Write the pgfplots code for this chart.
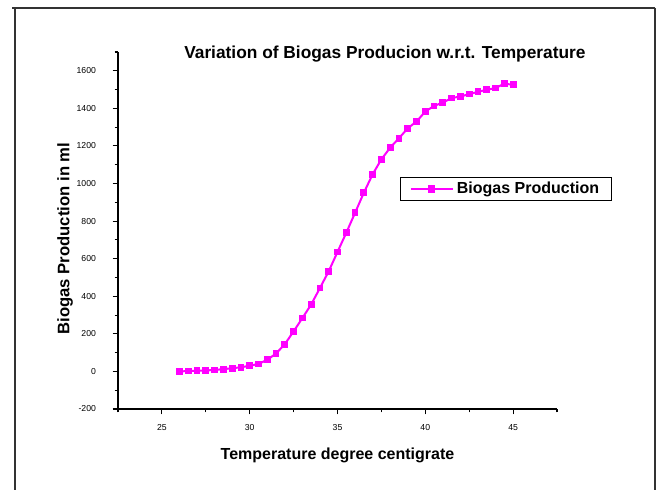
\documentclass[border=0pt]{standalone}
\usepackage{fontspec}
\setmainfont{Liberation Sans}
\usepackage{pgfplots}
\pgfplotsset{compat=1.18}
\definecolor{biomag}{rgb}{1,0,1}

\begin{document}
\begin{tikzpicture}
  % page and frame (1 px = 0.75pt, origin bottom left)
  \useasboundingbox[fill=white] (0pt,0pt) rectangle (495pt,367.5pt);
  \draw[line width=1.2pt, black!80] (9pt,361.5pt) -- (491.25pt,361.5pt);
  \draw[line width=1.2pt, black!80] (11.25pt,361.5pt) -- (11.25pt,0pt);
  \draw[line width=1.2pt, black!80] (491.25pt,361.5pt) -- (491.25pt,0pt);

  \begin{axis}[
    at={(88.5pt,60.75pt)}, anchor=south west,
    scale only axis,
    width=329.25pt, height=267.75pt,
    xmin=22.5, xmax=47.5,
    ymin=-200, ymax=1700,
    axis x line*=bottom, axis y line*=left,
    axis line style={line width=0.9pt},
    tick align=outside,
    xtick={25,30,35,40,45},
    minor xtick={22.5,27.5,32.5,37.5,42.5,47.5},
    ytick={-200,0,200,400,600,800,1000,1200,1400,1600},
    minor ytick={-100,100,300,500,700,900,1100,1300,1500,1700},
    major tick length=4pt, minor tick length=2.5pt,
    every tick/.style={black, line width=0.8pt},
    tick label style={font=\fontsize{6.5}{7}\selectfont},
    /pgf/number format/assume math mode=true,
    /pgf/number format/1000 sep={},
    xticklabel style={yshift=-4pt},
    yticklabel style={xshift=-9pt},
    xlabel={\bfseries Temperature degree centigrate},
    ylabel={\bfseries Biogas Production in ml},
    xlabel style={font=\fontsize{12}{14}\selectfont, yshift=-6pt},
    ylabel style={font=\fontsize{12.5}{14}\selectfont, yshift=-4pt, xshift=-6pt},
    clip=false,
    legend style={at={(axis cs:38.55,1035)}, anchor=north west,
      draw=black, line width=0.9pt, inner xsep=7pt, inner ysep=1.5pt,
      font=\fontsize{12}{14}\selectfont\bfseries,
      legend cell align=left},
    legend image code/.code={
      \draw[biomag, line width=1.5pt] (0cm,0cm) -- (1.12cm,0cm);
      \fill[biomag] (0.55cm,0cm) +(-2pt,-2pt) rectangle +(2pt,2pt);
    },
  ]
    \addplot[biomag, line width=1.5pt, mark=square*, mark size=1.8pt,
      mark options={solid, fill=biomag, draw=biomag}]
      coordinates {
        (26,0) (26.5,2) (27,3) (27.5,5) (28,8) (28.5,12) (29,17) (29.5,22)
        (30,30) (30.5,40) (31,62) (31.5,95) (32,145) (32.5,213) (33,284)
        (33.5,356) (34,444) (34.5,533) (35,636) (35.5,738) (36,844)
        (36.5,951) (37,1049) (37.5,1129) (38,1191) (38.5,1241) (39,1294)
        (39.5,1330) (40,1383) (40.5,1413) (41,1431) (41.5,1455) (42,1463)
        (42.5,1476) (43,1488) (43.5,1499) (44,1508) (44.5,1532) (45,1525)
      };
    \addlegendentry{Biogas Production}
    \node[font=\fontsize{13}{15}\selectfont\bfseries] at (axis cs:37.7,1690)
      {Variation of Biogas Producion w.r.t. Temperature};
  \end{axis}
\end{tikzpicture}
\end{document}
